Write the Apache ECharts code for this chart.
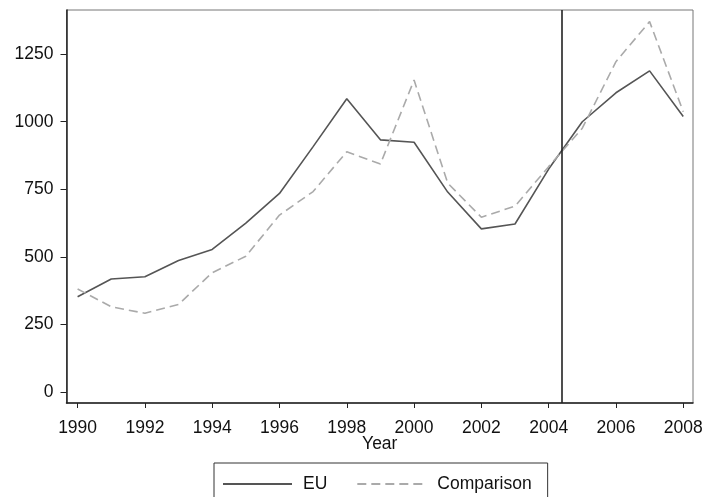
<!DOCTYPE html>
<html>
<head>
<meta charset="utf-8">
<script src="https://cdn.jsdelivr.net/npm/echarts@6/dist/echarts.min.js"></script>
<style>html,body{margin:0;padding:0;background:#fff;}#c{width:709px;height:497px;}</style>
</head>
<body>
<div id="c"></div>
<script>
const years = [1990,1991,1992,1993,1994,1995,1996,1997,1998,1999,2000,2001,2002,2003,2004,2005,2006,2007,2008];
const euValues = [353,419,427,487,528,625,735,908,1085,933,924,740,604,622,825,1000,1107,1188,1019];
const comparisonValues = [382,316,292,325,442,503,655,742,889,844,1154,773,647,688,834,976,1222,1370,1037];
const xTicks = [1990,1992,1994,1996,1998,2000,2002,2004,2006,2008];
const yTicks = [0,250,500,750,1000,1250];
const markerYear = 2004.4;

const font = 'Liberation Sans, Arial, sans-serif';
const fs = 17.5;
const chart = echarts.init(document.getElementById('c'));
chart.setOption({
  backgroundColor: '#fff',
  animation: false,
  grid: {left: 66.5, top: 10, right: 16, bottom: 94, show: true, borderColor: '#777', borderWidth: 1},
  xAxis: {
    type: 'value', min: 1989.67, max: 2008.29,
    name: 'Year', nameLocation: 'middle', nameGap: 32, nameMoveOverlap: false,
    nameTextStyle: {fontFamily: font, fontSize: fs, color: '#111'},
    axisLine: {onZero: false, lineStyle: {color: '#222', width: 1.5}},
    axisTick: {show: true, length: 5, lineStyle: {color: '#222'}, customValues: xTicks},
    axisLabel: {fontFamily: font, fontSize: fs, color: '#111', margin: 16, customValues: xTicks, formatter: v => String(v)},
    splitLine: {show: false}
  },
  yAxis: {
    type: 'value', min: -39.6, max: 1413,
    axisLine: {show: true, onZero: false, lineStyle: {color: '#222', width: 1.5}},
    axisTick: {show: true, length: 6, lineStyle: {color: '#222'}, customValues: yTicks},
    axisLabel: {fontFamily: font, fontSize: fs, color: '#111', margin: 13, customValues: yTicks, formatter: v => String(v)},
    splitLine: {show: false}
  },
  legend: {
    left: 214, top: 463,
    data: ['EU', 'Comparison'],
    itemWidth: 69, itemHeight: 14, itemGap: 29,
    itemStyle: {opacity: 0},
    borderColor: '#333', borderWidth: 1,
    padding: [12, 16, 10, 8],
    textStyle: {fontFamily: font, fontSize: fs, color: '#111', padding: [0, 0, 0, 6]}
  },
  series: [
    {
      name: 'EU', type: 'line', symbol: 'none',
      data: years.map((y, i) => [y, euValues[i]]),
      lineStyle: {color: '#555', width: 1.6},
      itemStyle: {color: '#555'},
      markLine: {
        silent: true, symbol: 'none', label: {show: false},
        lineStyle: {color: '#222', width: 1.6, type: 'solid'},
        data: [{xAxis: markerYear}]
      }
    },
    {
      name: 'Comparison', type: 'line', symbol: 'none',
      data: years.map((y, i) => [y, comparisonValues[i]]),
      lineStyle: {color: '#aaa', width: 1.6, type: [9, 5]},
      itemStyle: {color: '#aaa'}
    }
  ]
});
</script>
</body>
</html>
